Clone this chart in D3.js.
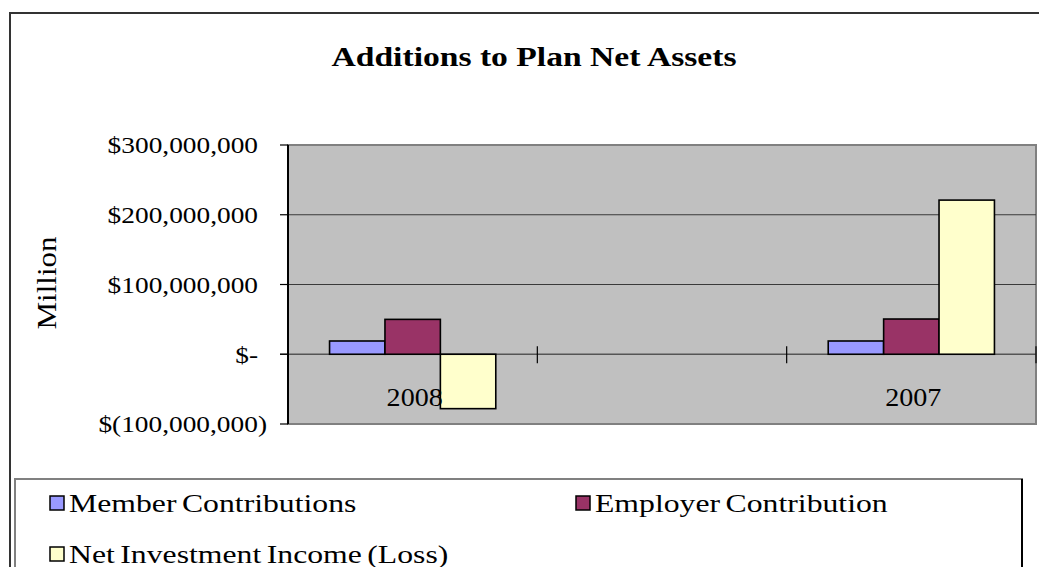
<!DOCTYPE html>
<html>
<head>
<meta charset="utf-8">
<script src="https://cdn.jsdelivr.net/npm/d3@7"></script>
<style>
    body { margin: 0; background: #fff; }
    text { font-family: "Liberation Serif", "Times New Roman", serif; fill: #000; }
</style>
</head>
<body>
<div id="chart"></div>
<script>
// data; the middle category is blank in the original
var categories = ['2008', '', '2007'];
var seriesNames = ['Member Contributions', 'Employer Contribution', 'Net Investment Income (Loss)'];
var memberContributions = [19000000, null, 19000000];
var employerContributions = [50000000, null, 50500000];
var netInvestmentIncome = [-78000000, null, 221000000];
var yTicks = [-100000000, 0, 100000000, 200000000, 300000000];

var colours = ['#9999ff', '#993366', '#ffffcc'];

var width = 1039;
var height = 567;

var plot = { left: 288, right: 1036, top: 145, bottom: 424 };

// the original font is a wide serif: place text through a transform and stretch it sideways
function placeText(sel, fx, fy, factor, rotate) {
    sel.attr('transform', function(d, i) {
        var px = typeof fx === 'function' ? fx(d, i) : fx;
        var py = typeof fy === 'function' ? fy(d, i) : fy;
        return 'translate(' + px + ',' + py + ')' + (rotate ? ' rotate(' + rotate + ')' : '') +
            ' scale(' + factor + ',1)';
    });
}

var svg = d3.select('#chart')
    .append('svg')
    .attr('width', width)
    .attr('height', height);

// outer chart border (runs off the right and bottom edges)
svg.append('path')
    .attr('d', 'M10,' + (height + 5) + 'V13H' + (width + 5))
    .attr('fill', 'none')
    .attr('stroke', '#333')
    .attr('stroke-width', 2);

svg.append('text')
    .attr('text-anchor', 'middle')
    .style('font-size', '27px')
    .style('font-weight', 'bold')
    .text('Additions to Plan Net Assets')
    .call(placeText, 534, 66, 1.245);

var x0 = d3.scaleBand()
    .domain(categories)
    .range([plot.left, plot.right]);

var x1 = d3.scaleBand()
    .domain(seriesNames)
    .range([0, x0.bandwidth()])
    .paddingOuter(0.75);

var y = d3.scaleLinear()
    .domain([-100000000, 300000000])
    .range([plot.bottom, plot.top]);

// plot area
svg.append('rect')
    .attr('x', plot.left)
    .attr('y', plot.top)
    .attr('width', plot.right - plot.left)
    .attr('height', plot.bottom - plot.top)
    .attr('fill', '#c0c0c0')
    .attr('stroke', '#808080')
    .attr('stroke-width', 2);

// gridlines
svg.append('g')
    .selectAll('line')
    .data(yTicks.filter(function(d) { return d > 0 && d < 300000000; }))
    .enter()
    .append('line')
    .attr('x1', plot.left)
    .attr('x2', plot.right)
    .attr('y1', function(d) { return y(d); })
    .attr('y2', function(d) { return y(d); })
    .attr('stroke', '#3a3a3a')
    .attr('stroke-width', 1);

// category axis at zero with cross ticks
var zeroY = y(0);
svg.append('line')
    .attr('x1', plot.left - 8)
    .attr('x2', plot.right)
    .attr('y1', zeroY)
    .attr('y2', zeroY)
    .attr('stroke', '#555')
    .attr('stroke-width', 1.5);

var bounds = categories.map(function(c) { return x0(c); }).concat([plot.right]);
svg.append('g')
    .selectAll('line')
    .data(bounds.slice(1))
    .enter()
    .append('line')
    .attr('x1', function(d) { return d; })
    .attr('x2', function(d) { return d; })
    .attr('y1', zeroY - 8)
    .attr('y2', zeroY + 9)
    .attr('stroke', '#000')
    .attr('stroke-width', 1.2);

// value axis
svg.append('line')
    .attr('x1', plot.left)
    .attr('x2', plot.left)
    .attr('y1', plot.top)
    .attr('y2', plot.bottom)
    .attr('stroke', '#000')
    .attr('stroke-width', 2);

svg.append('g')
    .selectAll('line')
    .data(yTicks)
    .enter()
    .append('line')
    .attr('x1', plot.left - 8)
    .attr('x2', plot.left)
    .attr('y1', function(d) { return y(d); })
    .attr('y2', function(d) { return y(d); })
    .attr('stroke', '#000')
    .attr('stroke-width', 1.2);

var money = d3.format(',');
function accounting(d) {
    if (d === 0) return '$-';
    if (d < 0) return '$(' + money(-d) + ')';
    return '$' + money(d);
}

svg.append('g')
    .selectAll('text')
    .data(yTicks)
    .enter()
    .append('text')
    .attr('dy', '0.35em')
    .attr('text-anchor', 'end')
    .style('font-size', '24px')
    .text(accounting)
    .call(placeText, function(d) { return d < 0 ? 267 : 258; }, function(d) { return y(d); }, 1.14);

svg.append('text')
    .attr('text-anchor', 'middle')
    .style('font-size', '27px')
    .text('Million')
    .call(placeText, 56, 283, 1.15, -90);

// bars
var seriesValues = [memberContributions, employerContributions, netInvestmentIncome];
var barData = [];
categories.forEach(function(c, i) {
    seriesNames.forEach(function(s, j) {
        if (seriesValues[j][i] != null) {
            barData.push({ category: c, series: s, index: j, value: seriesValues[j][i] });
        }
    });
});

svg.append('g')
    .selectAll('rect')
    .data(barData)
    .enter()
    .append('rect')
    .attr('x', function(d) { return x0(d.category) + x1(d.series); })
    .attr('width', x1.bandwidth())
    .attr('y', function(d) { return y(Math.max(0, d.value)); })
    .attr('height', function(d) { return Math.abs(y(d.value) - y(0)); })
    .attr('fill', function(d) { return colours[d.index]; })
    .attr('stroke', '#000')
    .attr('stroke-width', 1.6);

// category labels
svg.append('g')
    .selectAll('text')
    .data(categories.filter(function(c) { return c !== ''; }))
    .enter()
    .append('text')
    .attr('text-anchor', 'middle')
    .style('font-size', '26px')
    .text(function(d) { return d; })
    .call(placeText, function(d) { return x0(d) + x0.bandwidth() / 2 + 2; }, 406, 1.08);

// legend
svg.append('path')
    .attr('d', 'M15,' + (height + 5) + 'V479H1022V' + (height + 5))
    .attr('fill', '#fff')
    .attr('stroke', '#808080')
    .attr('stroke-width', 2);
svg.append('line')
    .attr('x1', 1022)
    .attr('x2', 1022)
    .attr('y1', 479)
    .attr('y2', height + 5)
    .attr('stroke', '#000')
    .attr('stroke-width', 2);

var legendPos = [[50, 503], [576, 503], [50, 554]];
var legend = svg.append('g')
    .selectAll('g')
    .data(seriesNames)
    .enter()
    .append('g')
    .attr('transform', function(d, i) { return 'translate(' + legendPos[i] + ')'; });

legend.append('rect')
    .attr('x', 0)
    .attr('y', -7)
    .attr('width', 14)
    .attr('height', 14)
    .attr('fill', function(d, i) { return colours[i]; })
    .attr('stroke', '#000')
    .attr('stroke-width', 1.5);

legend.append('text')
    .attr('dy', '0.35em')
    .style('font-size', '26px')
    .style('word-spacing', '-2px')
    .text(function(d) { return d; })
    .call(placeText, 19, 0, 1.22);
</script>
</body>
</html>
